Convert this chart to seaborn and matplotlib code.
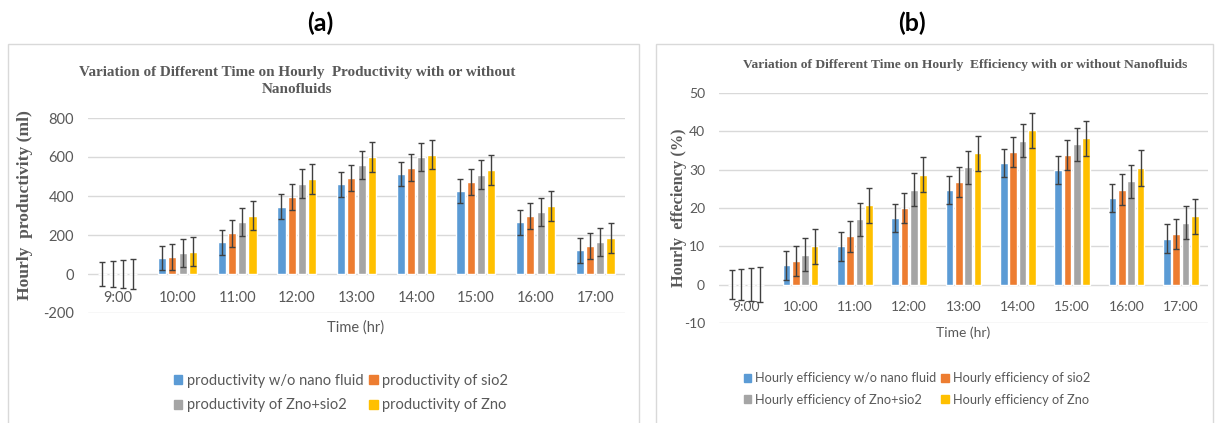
import numpy as np
import pandas as pd
import seaborn as sns
import matplotlib.pyplot as plt
from matplotlib.patches import Rectangle, Patch

W, H = 1216, 423

times = ['9:00', '10:00', '11:00', '12:00', '13:00', '14:00', '15:00', '16:00', '17:00']
colors = ['#5B9BD5', '#ED7D31', '#A5A5A5', '#FFC000']

# (a) hourly productivity (ml)
prod_series = ['productivity w/o nano fluid', 'productivity of sio2',
               'productivity of Zno+sio2', 'productivity of Zno']
prod_wo = [0, 82, 163, 345, 460, 513, 425, 265, 121]
prod_sio2 = [0, 86, 208, 393, 494, 546, 472, 296, 142]
prod_zno_sio2 = [0, 109, 266, 463, 559, 600, 510, 318, 164]
prod_zno = [0, 115, 300, 487, 600, 612, 533, 348, 186]
prod_err = [63, 67, 73, 76]

# (b) hourly efficiency (%)
eff_series = ['Hourly efficiency w/o nano fluid', 'Hourly efficiency of sio2',
              'Hourly efficiency of Zno+sio2', 'Hourly efficiency of Zno']
eff_wo = [0, 5.0, 10.0, 17.4, 24.7, 31.7, 29.9, 22.6, 12.0]
eff_sio2 = [0, 6.2, 12.6, 20.0, 26.8, 34.6, 33.8, 24.8, 13.2]
eff_zno_sio2 = [0, 7.8, 17.0, 24.8, 30.6, 37.5, 36.6, 27.0, 16.1]
eff_zno = [0, 10.0, 20.7, 28.7, 34.3, 40.3, 38.2, 30.4, 17.8]
eff_err = [3.7, 4.0, 4.3, 4.6]

sns.set_style('white')
plt.rcParams['font.family'] = ['Lato', 'DejaVu Sans']
plt.rcParams['axes.unicode_minus'] = False

TXT = '#595959'


def fx(x):
    return x / W


def fy(y):
    return 1 - y / H


def long_df(series, values):
    rows = []
    for name, vals in zip(series, values):
        for t, v in zip(times, vals):
            rows.append({'time': t, 'value': v, 'series': name})
    return pd.DataFrame(rows)


def panel(fig, box, df, series, errs, ylim, yticks, label_pad, fs):
    x0, x1, ytop, ybot = box
    ax = fig.add_axes([fx(x0), fy(ybot), (x1 - x0) / W, (ybot - ytop) / H])
    sns.barplot(data=df, x='time', y='value', hue='series', hue_order=series,
                order=times, palette=colors, saturation=1, width=0.69, gap=0.2,
                errorbar=None, legend=False, ax=ax)
    for cont, err in zip(ax.containers, errs):
        xs = [b.get_x() + b.get_width() / 2 for b in cont]
        ys = [b.get_height() for b in cont]
        ax.errorbar(xs, ys, yerr=err, fmt='none', ecolor='#404040',
                    elinewidth=1, capsize=2.2, capthick=1, zorder=3)
    ax.set_xlim(-0.5, len(times) - 0.5)
    ax.set_ylim(*ylim)
    ax.set_yticks(yticks)
    ax.yaxis.grid(True, color='#d9d9d9', lw=1)
    ax.set_axisbelow(True)
    for s in ax.spines.values():
        s.set_visible(False)
    ax.spines['bottom'].set_position(('data', 0))
    ax.tick_params(axis='x', length=0, pad=label_pad, labelsize=fs, labelcolor=TXT)
    ax.tick_params(axis='y', length=0, pad=10, labelsize=fs, labelcolor=TXT)
    ax.set_xlabel('')
    ax.set_ylabel('')
    return ax


fig = plt.figure(figsize=(W / 100, H / 100), dpi=100)

# panel frames
fig.add_artist(Rectangle((fx(8), -0.01), (639 - 8) / W, fy(44) + 0.01,
                         transform=fig.transFigure, fill=False, ec='#d9d9d9', lw=1))
fig.add_artist(Rectangle((fx(656), -0.01), (1213 - 656) / W, fy(44) + 0.01,
                         transform=fig.transFigure, fill=False, ec='#d9d9d9', lw=1))

df_a = long_df(prod_series, [prod_wo, prod_sio2, prod_zno_sio2, prod_zno])
ax_a = panel(fig, (88, 625, 118, 313), df_a, prod_series, prod_err,
             (-200, 800), [-200, 0, 200, 400, 600, 800], 12.5, 10.5)

df_b = long_df(eff_series, [eff_wo, eff_sio2, eff_zno_sio2, eff_zno])
ax_b = panel(fig, (719, 1208, 93, 323), df_b, eff_series, eff_err,
             (-10, 50), [-10, 0, 10, 20, 30, 40, 50], 12, 10)

# panel letters
fig.text(fx(320), fy(23), '(a)', ha='center', va='center', fontsize=18,
         fontweight='bold', color='black')
fig.text(fx(912), fy(23), '(b)', ha='center', va='center', fontsize=18,
         fontweight='bold', color='black')

serif = ['Liberation Serif', 'DejaVu Serif']
fig.text(fx(297), fy(81), 'Variation of Different Time on Hourly  Productivity with or without\nNanofluids',
         ha='center', va='center', fontsize=10.9, fontweight='bold', family=serif,
         color=TXT, linespacing=1.4)
fig.text(fx(965), fy(65), 'Variation of Different Time on Hourly  Efficiency with or without Nanofluids',
         ha='center', va='center', fontsize=9.7, fontweight='bold', family=serif, color=TXT)

fig.text(fx(25), fy(205), 'Hourly  productivity (ml)', rotation=90, ha='center', va='center',
         fontsize=12.6, fontweight='bold', family=serif, color=TXT)
fig.text(fx(679), fy(208), 'Hourly  effeciency (%)', rotation=90, ha='center', va='center',
         fontsize=11.8, fontweight='bold', family=serif, color=TXT)

fig.text(fx(356), fy(328), 'Time (hr)', ha='center', va='center', fontsize=10.5, color=TXT)
fig.text(fx(963), fy(333), 'Time (hr)', ha='center', va='center', fontsize=10, color=TXT)


def add_legend(series, cx, cy, fs):
    handles = [Patch(color=c) for c in colors]
    idx = [0, 2, 1, 3]  # row-major with ncol=2
    fig.legend([handles[i] for i in idx], [series[i] for i in idx], ncol=2,
               loc='center', bbox_to_anchor=(fx(cx), fy(cy)), frameon=False,
               fontsize=fs, labelcolor=TXT, handlelength=0.6, handleheight=0.6,
               handletextpad=0.3, columnspacing=0.4, labelspacing=0.75)


add_legend(prod_series, 341, 393, 10.5)
add_legend(eff_series, 917, 389, 9.2)

fig.savefig('out.png', dpi=100)
